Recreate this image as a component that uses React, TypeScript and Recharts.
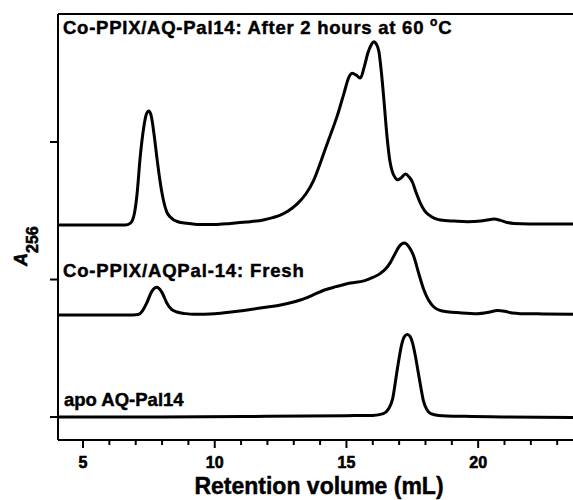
import React from 'react';
import { LineChart, Line, XAxis, YAxis, ReferenceLine, Customized } from 'recharts';

// Retention volume (mL) vs A256 (offset traces, y units = tick spacing)
const apoTrace = [
  [4.05, 0], [8, 0], [12, 0.005], [15, 0.01], [16, 0.012], [16.4, 0.025], [16.6, 0.06],
  [16.75, 0.13], [16.9, 0.31], [17.0, 0.43], [17.1, 0.53], [17.2, 0.585], [17.31, 0.6],
  [17.42, 0.585], [17.52, 0.53], [17.62, 0.44], [17.72, 0.33], [17.82, 0.22], [17.92, 0.12],
  [18.05, 0.055], [18.2, 0.025], [18.5, 0.012], [19.5, 0.005], [21, 0], [23.6, -0.003],
];

const freshTrace = [
  [4.05, 0.742], [6.9, 0.742], [7.1, 0.745], [7.25, 0.77], [7.42, 0.83], [7.6, 0.91],
  [7.8, 0.943], [8.0, 0.905], [8.18, 0.83], [8.35, 0.785], [8.56, 0.764], [8.9, 0.752],
  [9.2, 0.747], [10, 0.752], [10.7, 0.766], [11.3, 0.78], [12, 0.8], [12.5, 0.815],
  [13.25, 0.851], [13.7, 0.885], [14.14, 0.922], [14.6, 0.948], [15.15, 0.975], [15.66, 0.99],
  [16.0, 1.015], [16.29, 1.045], [16.5, 1.08], [16.67, 1.125], [16.85, 1.19], [17.0, 1.24],
  [17.2, 1.265], [17.38, 1.235], [17.56, 1.166], [17.75, 1.04], [17.94, 0.924], [18.12, 0.85],
  [18.32, 0.8], [18.55, 0.775], [18.83, 0.765], [19.3, 0.758], [19.97, 0.752], [20.4, 0.762],
  [20.73, 0.775], [21.0, 0.77], [21.3, 0.756], [21.6, 0.752], [22.5, 0.75], [23.6, 0.748],
];

const heatedTrace = [
  [4.05, 1.396], [6.6, 1.396], [6.8, 1.41], [6.95, 1.48], [7.05, 1.62], [7.17, 1.89],
  [7.3, 2.1], [7.4, 2.2], [7.5, 2.225], [7.6, 2.18], [7.7, 2.05], [7.8, 1.893], [7.92, 1.72],
  [8.05, 1.578], [8.18, 1.49], [8.31, 1.455], [8.6, 1.42], [8.94, 1.409], [9.45, 1.4],
  [10, 1.4], [10.6, 1.408], [11.2, 1.418], [11.84, 1.433], [12.2, 1.45], [12.49, 1.468],
  [12.8, 1.5], [13.13, 1.55], [13.45, 1.62], [13.75, 1.72], [14.05, 1.87], [14.32, 2.015],
  [14.65, 2.19], [14.9, 2.35], [15.09, 2.47], [15.22, 2.5], [15.38, 2.485], [15.53, 2.465],
  [15.68, 2.55], [15.81, 2.645], [15.95, 2.71], [16.04, 2.73], [16.14, 2.71], [16.23, 2.66],
  [16.33, 2.5], [16.42, 2.31], [16.55, 2.02], [16.65, 1.86], [16.74, 1.785], [16.85, 1.74],
  [16.93, 1.725], [17.08, 1.74], [17.24, 1.767], [17.38, 1.745], [17.5, 1.71], [17.65, 1.63],
  [17.81, 1.554], [17.97, 1.5], [18.13, 1.47], [18.35, 1.445], [18.57, 1.433], [19.1, 1.425],
  [19.59, 1.42], [20.1, 1.425], [20.4, 1.435], [20.6, 1.44], [20.85, 1.43], [21.1, 1.415],
  [21.36, 1.408], [22.5, 1.404], [23.6, 1.404],
];

const xTicks = [5, 6, 7, 8, 9, 10, 11, 12, 13, 14, 15, 16, 17, 18, 19, 20, 21, 22, 23];
const xMajor = [5, 10, 15, 20];
const yTicks = [0, 1, 2];
const X_DOMAIN: [number, number] = [4.05, 23.6];
const Y_DOMAIN: [number, number] = [-0.167, 2.931];

const heatedLabel = 'Co-PPIX/AQ-Pal14: After 2 hours at 60 ';
const freshLabel = 'Co-PPIX/AQPal-14: Fresh';
const apoLabel = 'apo AQ-Pal14';
const xTitle = 'Retention volume (mL)';

const toPts = (arr: number[][]) => arr.map(([x, y]) => ({ x, y }));

const FONT = '"Liberation Sans", Arial, sans-serif';
const heavy = { fontWeight: 700, stroke: '#000', strokeWidth: 0.45, paintOrder: 'stroke' } as any;

const renderXTick = (props: any) => {
  const { x, y, payload, index } = props;
  const major = xMajor.includes(payload.value);
  return (
    <g key={`t-${index}`}>
      <line x1={x} y1={y} x2={x} y2={y + (major ? 8 : 5)} stroke="#000" strokeWidth={2} />
      {major && (
        <text
          x={x}
          y={y + 28}
          textAnchor="middle"
          fontFamily={FONT}
          fontSize={16}
          fontWeight="bold"
          fill="#000"
          stroke="#000"
          strokeWidth={0.6}
        >
          {String(payload.value)}
        </text>
      )}
    </g>
  );
};

const Annotations = () => (
  <g fontFamily={FONT} fill="#000">
    <text x={63} y={34} fontSize={18.5} letterSpacing={0.75} style={heavy}>
      {heatedLabel}
      <tspan fontSize={12} dy={-8}>o</tspan>
      <tspan dy={8}>C</tspan>
    </text>
    <text x={63} y={277} fontSize={18.5} letterSpacing={0.85} style={heavy}>{freshLabel}</text>
    <text x={64} y={406} fontSize={18.5} style={heavy}>{apoLabel}</text>
    <text x={319} y={494} textAnchor="middle" fontSize={23} style={heavy}>{xTitle}</text>
    <text x={27} y={266} transform="rotate(-90, 27, 266)" fontSize={18} fontWeight="bold" stroke="#000" strokeWidth={0.6}>
      <tspan fontStyle="italic">A</tspan>
      <tspan fontSize={16} dy={11}>256</tspan>
    </text>
  </g>
);

export default function App() {
  return (
    <div style={{ position: 'absolute', left: 0, top: 0, width: 573, height: 500, background: '#fff' }}>
      <LineChart width={573} height={500} margin={{ top: 14, right: 0, bottom: 0, left: 0 }}>
        <XAxis
          type="number"
          dataKey="x"
          domain={X_DOMAIN}
          ticks={xTicks}
          allowDataOverflow
          height={60}
          tickSize={0}
          tickMargin={0}
          tickLine={false}
          tick={renderXTick}
          axisLine={{ stroke: '#000', strokeWidth: 2 }}
          interval={0}
        />
        <YAxis
          type="number"
          dataKey="y"
          domain={Y_DOMAIN}
          ticks={yTicks}
          allowDataOverflow
          width={58}
          tickSize={8}
          tickFormatter={() => ''}
          tickLine={{ stroke: '#000', strokeWidth: 2 }}
          axisLine={{ stroke: '#000', strokeWidth: 2 }}
        />
        <ReferenceLine y={Y_DOMAIN[1]} stroke="#000" strokeWidth={2} ifOverflow="extendDomain" />
        <Line data={toPts(apoTrace)} dataKey="y" type="monotone" stroke="#000" strokeWidth={3} dot={false} isAnimationActive={false} />
        <Line data={toPts(freshTrace)} dataKey="y" type="monotone" stroke="#000" strokeWidth={3} dot={false} isAnimationActive={false} />
        <Line data={toPts(heatedTrace)} dataKey="y" type="monotone" stroke="#000" strokeWidth={3} dot={false} isAnimationActive={false} />
        <Customized component={Annotations} />
      </LineChart>
    </div>
  );
}
